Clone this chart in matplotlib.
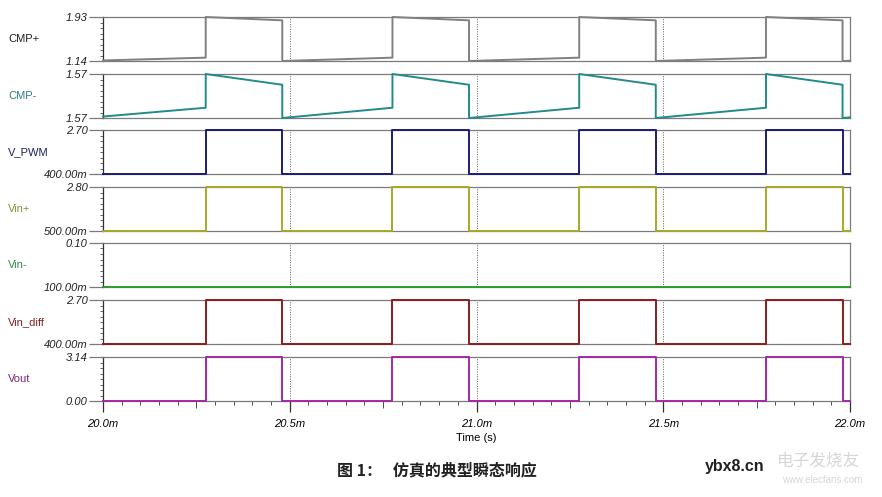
import numpy as np
import matplotlib.pyplot as plt
from matplotlib.ticker import FixedLocator, FixedFormatter, MultipleLocator

plt.rcParams['font.family'] = ['Liberation Sans', 'DejaVu Sans']

# edge times in ms
rise_ms = [20.275, 20.775, 21.275, 21.775]
fall_ms = [20.48, 20.98, 21.48, 21.98]
t_start, t_end = 20.0, 22.0

names = ["CMP+", "CMP-", "V_PWM", "Vin+", "Vin-", "Vin_diff", "Vout"]
name_colors = ["#202020", "#2f7f7f", "#1e1e5a", "#8c8c3c", "#3c8a3c", "#7a2424", "#7c267c"]
line_colors = ["#808080", "#238a8a", "#1c1c78", "#a8a828", "#2e9a2e", "#8e1c1c", "#a528a5"]
y_lo = [1.14, 1.5655, 0.4, 0.5, 0.1, 0.4, 0.0]
y_hi = [1.93, 1.5745, 2.7, 2.8, 0.1004, 2.7, 3.14]
lo_labels = ["1.14", "1.57", "400.00m", "500.00m", "100.00m", "400.00m", "0.00"]
hi_labels = ["1.93", "1.57", "2.70", "2.80", "0.10", "2.70", "3.14"]

# sawtooth levels: value at start, before rise, after rise, before fall, after fall
cmp_plus = [1.15, 1.20, 1.93, 1.87, 1.14]
cmp_minus = [1.5658, 1.5676, 1.5745, 1.5723, 1.5655]
# square levels: low, high
v_pwm = [0.4, 2.7]
vin_plus = [0.5, 2.8]
vin_minus = [0.1, 0.1]
vin_diff = [0.4, 2.7]
vout = [0.0, 3.14]

xticks = [20.0, 20.5, 21.0, 21.5, 22.0]
xtick_labels = ["20.0m", "20.5m", "21.0m", "21.5m", "22.0m"]


def saw_wave(levels):
    t = [t_start]
    v = [levels[0]]
    for r, f in zip(rise_ms, fall_ms):
        t += [r, r, f, f]
        v += [levels[1], levels[2], levels[3], levels[4]]
    slope_end = levels[4] + (levels[1] - levels[4]) * (t_end - fall_ms[-1]) / (rise_ms[1] - fall_ms[0])
    t.append(t_end)
    v.append(slope_end)
    return t, v


def square_wave(levels):
    t = [t_start]
    v = [levels[0]]
    for r, f in zip(rise_ms, fall_ms):
        t += [r, r, f, f]
        v += [levels[0], levels[1], levels[1], levels[0]]
    t.append(t_end)
    v.append(levels[0])
    return t, v


waves = [saw_wave(cmp_plus), saw_wave(cmp_minus), square_wave(v_pwm), square_wave(vin_plus),
         square_wave(vin_minus), square_wave(vin_diff), square_wave(vout)]

W, H = 882, 497
fig = plt.figure(figsize=(W / 100, H / 100), dpi=100)

tops = [17, 74, 130, 187, 243, 300, 357]
left_px, right_px, h_px = 103, 850, 44

for i, (t, v) in enumerate(waves):
    ax = fig.add_axes([left_px / W, 1 - (tops[i] + h_px) / H, (right_px - left_px) / W, h_px / H])
    ax.plot(t, v, color=line_colors[i], lw=1.4, clip_on=False, zorder=5)
    ax.set_xlim(t_start, t_end)
    ax.set_ylim(y_lo[i], y_hi[i])
    for x in xticks[1:-1]:
        ax.axvline(x, color="#606060", lw=0.7, ls=(0, (1, 1.5)), zorder=1)
    for s in ["top", "bottom", "right"]:
        ax.spines[s].set_color("#7a7a7a")
        ax.spines[s].set_linewidth(0.9)
    ax.spines["left"].set_color("#303030")
    ax.spines["left"].set_linewidth(0.9)

    ax.yaxis.set_major_locator(FixedLocator([y_lo[i], y_hi[i]]))
    ax.yaxis.set_major_formatter(FixedFormatter([lo_labels[i], hi_labels[i]]))
    span = y_hi[i] - y_lo[i]
    ax.yaxis.set_minor_locator(FixedLocator([y_lo[i] + span * k / 8 for k in range(1, 8)]))
    ax.tick_params(axis="y", which="major", length=10, width=0.9, color="#7a7a7a", pad=1,
                   labelsize=8)
    ax.tick_params(axis="y", which="minor", length=2.5, width=0.6, color="#505050")
    for lab in ax.get_yticklabels():
        lab.set_fontstyle("italic")
        lab.set_color("#202020")

    ax.text(-95 / (right_px - left_px), 0.5, names[i], transform=ax.transAxes,
            ha="left", va="center", fontsize=8, color=name_colors[i])

    if i == len(waves) - 1:
        ax.set_xticks(xticks)
        ax.set_xticklabels(xtick_labels, fontstyle="italic", fontsize=8)
        ax.xaxis.set_minor_locator(MultipleLocator(0.05))
        ax.tick_params(axis="x", which="major", length=8, width=0.9, color="#303030", pad=5)
        ax.tick_params(axis="x", which="minor", length=3, width=0.6, color="#303030")
        for tk, loc in zip(ax.xaxis.get_minor_ticks(), ax.xaxis.get_minorticklocs()):
            if abs((loc - 20.25) / 0.5 - round((loc - 20.25) / 0.5)) < 1e-6:
                tk.tick1line.set_markersize(5)
        ax.set_xlabel("Time (s)", fontsize=8, labelpad=3)
    else:
        ax.set_xticks([])

fig.text(437 / W, 1 - 470 / H, "图 1：   仿真的典型瞬态响应", ha="center", va="center",
         fontsize=11.5, fontweight="bold", color="#202020",
         family=["Noto Sans CJK SC", "DejaVu Sans"])
fig.text(735 / W, 1 - 467 / H, "ybx8.cn", ha="center", va="center", fontsize=11.5,
         fontweight="bold", color="#202020")
fig.text(818 / W, 1 - 461 / H, "电子发烧友", ha="center", va="center", fontsize=12,
         color="#d6d6d6", family=["Noto Sans CJK SC", "DejaVu Sans"])
fig.text(822 / W, 1 - 480 / H, "www.elecfans.com", ha="center", va="center", fontsize=7,
         color="#d6d6d6")

fig.savefig("out.png", dpi=100)
